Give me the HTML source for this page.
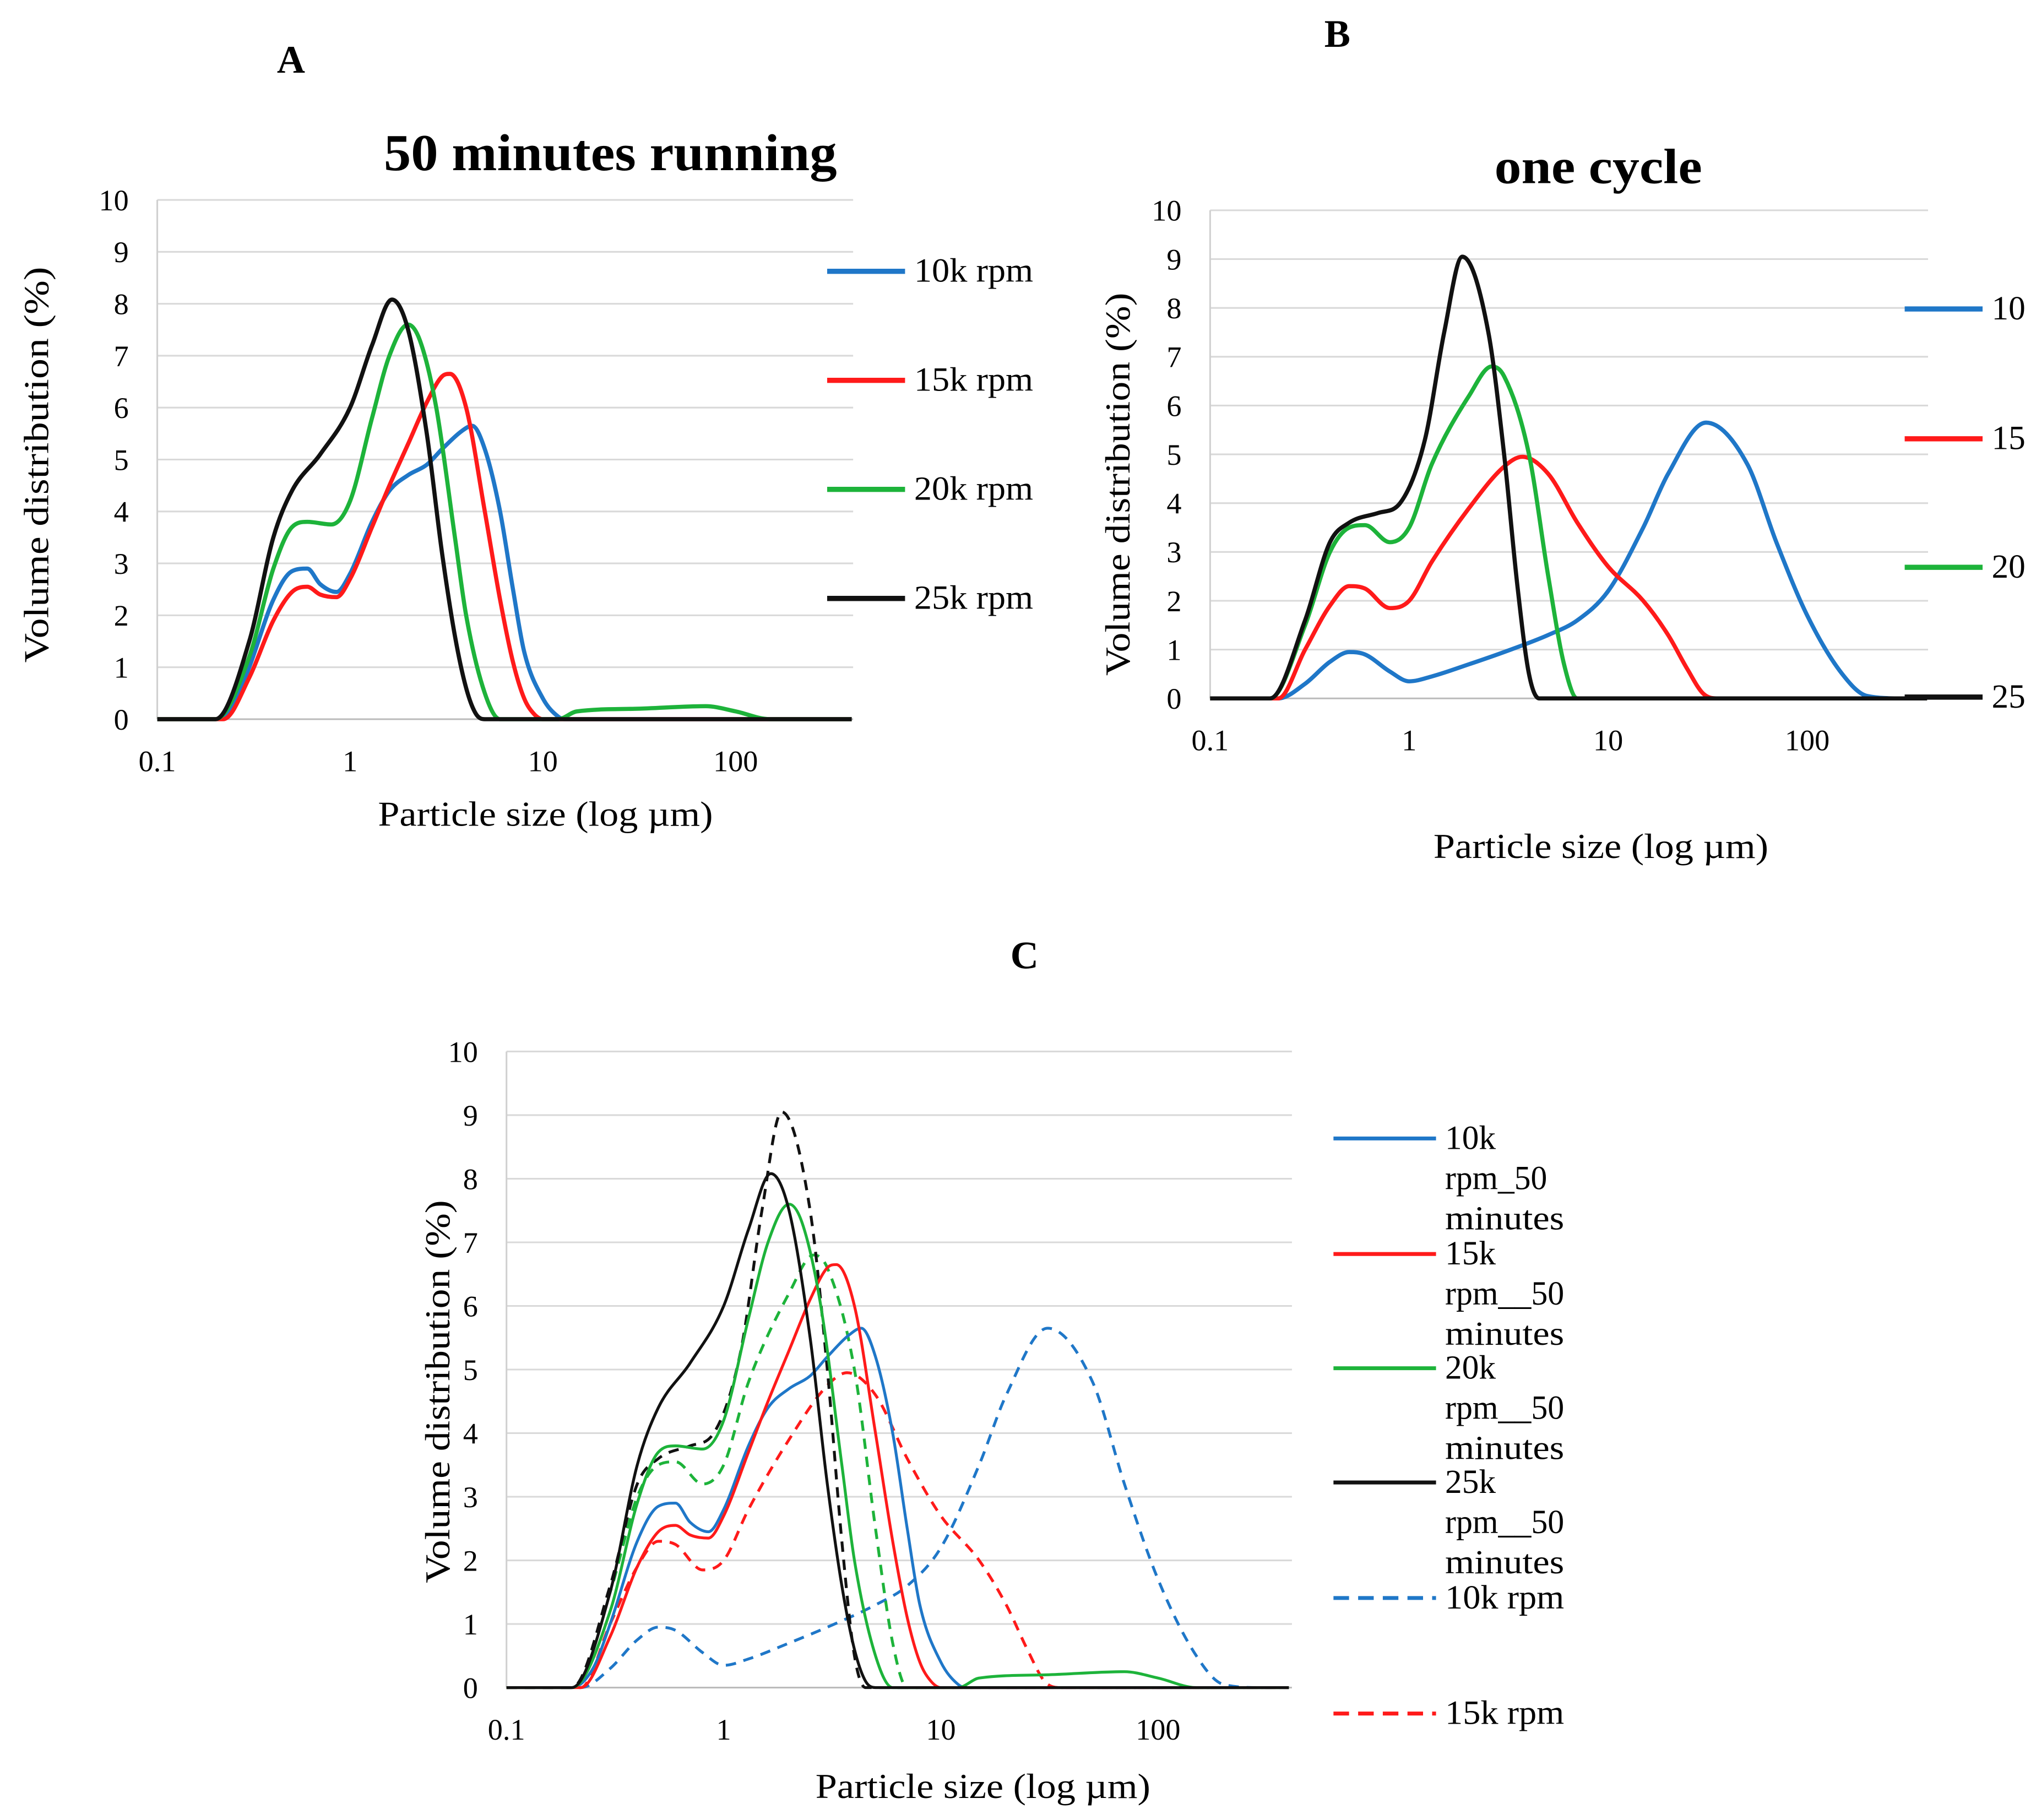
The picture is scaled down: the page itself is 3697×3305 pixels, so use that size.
<!DOCTYPE html>
<html><head><meta charset="utf-8">
<style>
html,body{margin:0;padding:0;background:#fff;}
svg{display:block;}
text{font-family:"Liberation Serif",serif;fill:#000;}
</style></head>
<body>
<svg id="chart" width="3697" height="3305" viewBox="0 0 1568 1402" xmlns="http://www.w3.org/2000/svg">
<g id="root"></g>
</svg>
<script>
// ---- Data (particle size µm, volume %) ----
const tickLabelsX = ["0.1","1","10","100"];
const tickValuesX = [0.1,1,10,100];
const tickValuesY = [0,1,2,3,4,5,6,7,8,9,10];

// A: 50 minutes running
const a10x=[0.1,0.2,0.25,0.3,0.4,0.5,0.6,0.7,0.85,1,1.3,1.6,2,2.5,3,3.8,4.3,5,6,7,8,10,12,13,400];
const a10y=[0,0,0.3,1,2.3,2.85,2.9,2.6,2.45,2.8,3.8,4.4,4.7,4.9,5.2,5.55,5.65,5.2,4,2.5,1.3,0.4,0.05,0,0];
const a15x=[0.1,0.22,0.3,0.4,0.5,0.6,0.7,0.85,1,1.3,1.6,2,2.5,3,3.3,4,5,6,7,8,9,10,400];
const a15y=[0,0,0.8,1.9,2.45,2.55,2.4,2.35,2.7,3.7,4.5,5.3,6.1,6.6,6.65,6,4,2.3,1.1,0.4,0.1,0,0];
const a20x=[0.1,0.2,0.3,0.4,0.5,0.6,0.8,1,1.3,1.6,2,2.3,2.8,3.5,4,5,6,12,15,30,70,100,150,400];
const a20y=[0,0,1.2,2.9,3.7,3.8,3.75,4.2,5.8,7,7.6,7.3,6,3.5,2,0.5,0,0,0.15,0.2,0.25,0.15,0,0];
const a25x=[0.1,0.2,0.3,0.4,0.5,0.7,1,1.3,1.65,2,2.5,3,3.5,4,4.5,5,400];
const a25y=[0,0,1.5,3.5,4.4,5.1,6,7.2,8.08,7.5,5.5,3.2,1.6,0.6,0.1,0,0];

// B: one cycle
const b10x=[0.1,0.22,0.3,0.4,0.5,0.6,0.8,1,1.3,2,3,5,7,10,15,20,31,50,70,100,150,200,300,400];
const b10y=[0,0,0.3,0.75,0.95,0.9,0.55,0.35,0.45,0.7,0.95,1.3,1.6,2.2,3.5,4.6,5.65,4.8,3.2,1.7,0.5,0.05,0,0];
const b15x=[0.1,0.22,0.3,0.4,0.5,0.6,0.8,1,1.3,2,3,3.7,5,7,10,15,20,25,30,35,400];
const b15y=[0,0,1,1.9,2.3,2.25,1.85,2,2.8,3.9,4.75,4.95,4.6,3.6,2.7,2,1.3,0.6,0.1,0,0];
const b20x=[0.1,0.2,0.3,0.4,0.5,0.6,0.8,1,1.3,2,2.6,3,4,5,6,7,400];
const b20y=[0,0,1.5,3,3.5,3.55,3.2,3.5,4.8,6.2,6.8,6.6,5,2.5,0.7,0,0];
const b25x=[0.1,0.2,0.3,0.4,0.5,0.7,0.9,1.2,1.5,1.85,2.5,3,3.5,4,4.5,400];
const b25y=[0,0,1.6,3.2,3.6,3.8,4,5.3,7.5,9.05,7.5,5,2.3,0.5,0,0];

const BLUE="#1f77c8",RED="#ff1a1a",GREEN="#1db33a",BLACK="#111";
const NS="http://www.w3.org/2000/svg";
const root=document.getElementById('root');
function el(tag,attrs,parent){const e=document.createElementNS(NS,tag);for(const k in attrs)e.setAttribute(k,attrs[k]);(parent||root).appendChild(e);return e;}
function txt(s,attrs,parent){const e=el('text',attrs,parent);e.textContent=s;return e;}

function monoPath(pts){
  const n=pts.length;if(n<2)return'';
  const dx=[],m=[],t=[];
  for(let i=0;i<n-1;i++){dx[i]=pts[i+1][0]-pts[i][0];m[i]=(pts[i+1][1]-pts[i][1])/dx[i];}
  t[0]=m[0];t[n-1]=m[n-2];
  for(let i=1;i<n-1;i++){t[i]=(m[i-1]*m[i]<=0)?0:(m[i-1]+m[i])/2;}
  for(let i=0;i<n-1;i++){if(m[i]===0){t[i]=0;t[i+1]=0;continue;}
    const a=t[i]/m[i],b=t[i+1]/m[i],h=a*a+b*b;if(h>9){const s=3/Math.sqrt(h);t[i]=s*a*m[i];t[i+1]=s*b*m[i];}}
  let d='M'+pts[0][0].toFixed(2)+','+pts[0][1].toFixed(2);
  for(let i=0;i<n-1;i++){const h=dx[i]/3;
    d+='C'+(pts[i][0]+h).toFixed(2)+','+(pts[i][1]+t[i]*h).toFixed(2)+' '+(pts[i+1][0]-h).toFixed(2)+','+(pts[i+1][1]-t[i+1]*h).toFixed(2)+' '+pts[i+1][0].toFixed(2)+','+pts[i+1][1].toFixed(2);}
  return d;
}

function makeChart(cfg){
  const g=el('g',{});
  
  
  const xs=v=>cfg.x0+(Math.log10(v)+1)*cfg.dec;
  const ys=v=>cfg.y0-v*cfg.unit;
  const grid=el('g',{},g);
  
  
  tickValuesY.forEach(v=>{
    el('line',{x1:cfg.x0,x2:cfg.xEnd,y1:ys(v),y2:ys(v),stroke:v===0?'#bbb':'#d9d9d9','stroke-width':1.3},grid);
    const t=txt(String(v),{x:cfg.x0-22,y:ys(v)+8,'font-size':23,'text-anchor':'end'},g);
    
    
  });
  el('line',{x1:cfg.x0,x2:cfg.x0,y1:ys(10),y2:ys(0),stroke:'#d0d0d0','stroke-width':1.3},grid);
  tickValuesX.forEach((v,i)=>{
    const t=txt(tickLabelsX[i],{x:xs(v),y:cfg.y0+40,'font-size':23,'text-anchor':'middle'},g);
    
    
  });
  const xt=txt('Particle size (log µm)',{x:cfg.xtx,y:cfg.xty,'font-size':27,'text-anchor':'middle',textLength:258,lengthAdjust:'spacingAndGlyphs'},g);
  
  
  const yt=txt('Volume distribution  (%)',{x:0,y:0,'font-size':27,'text-anchor':'middle',textLength:cfg.ytl,lengthAdjust:'spacingAndGlyphs',transform:'translate('+cfg.ytx+','+cfg.yty+') rotate(-90)'},g);
  
  
  cfg.series.forEach(s=>{
    const pts=s.x.map((v,i)=>[xs(Math.min(v,Math.pow(10,(cfg.xEnd-cfg.x0)/cfg.dec-1))),ys(s.y[i])]);
    const p=el('path',{d:monoPath(pts),fill:'none',stroke:s.c,'stroke-width':cfg.sw,'stroke-dasharray':s.dash?'8,6':'none','stroke-linejoin':'round'},g);
    
    
  });
  cfg.legend.forEach(L=>{
    const lg=el('g',{},g);
    
    
    el('line',{x1:L.x1,x2:L.x2,y1:L.y,y2:L.y,stroke:L.c,'stroke-width':cfg.lw,'stroke-dasharray':L.dash?'12,7':'none'},lg);
    L.lines.forEach((ln,k)=>{
      const a={x:L.x2+7,y:L.y+8+k*31,'font-size':26};
      if(ln.length>3){a.textLength=ln.length*13.1;a.lengthAdjust='spacingAndGlyphs';}
      txt(ln,a,lg);
    });
  });
  return g;
}

makeChart({name:'chart-a',x0:121,dec:148.5,xEnd:657,y0:554,unit:40,sw:3.2,lw:4,xtx:420,xty:636,ytx:37,yty:358,ytl:305,
 series:[{x:a10x,y:a10y,c:BLUE,name:'line-10k'},{x:a15x,y:a15y,c:RED,name:'line-15k'},{x:a20x,y:a20y,c:GREEN,name:'line-20k'},{x:a25x,y:a25y,c:BLACK,name:'line-25k'}],
 legend:[{x1:637,x2:697,y:209,c:BLUE,lines:['10k rpm']},{x1:637,x2:697,y:293,c:RED,lines:['15k rpm']},{x1:637,x2:697,y:377,c:GREEN,lines:['20k rpm']},{x1:637,x2:697,y:461,c:BLACK,lines:['25k rpm']}]});

makeChart({name:'chart-b',x0:932,dec:153.3,xEnd:1485,y0:538,unit:37.6,sw:3.2,lw:4,xtx:1233,xty:661,ytx:870,yty:373,ytl:295,
 series:[{x:b10x,y:b10y,c:BLUE,name:'line-10k'},{x:b15x,y:b15y,c:RED,name:'line-15k'},{x:b20x,y:b20y,c:GREEN,name:'line-20k'},{x:b25x,y:b25y,c:BLACK,name:'line-25k'}],
 legend:[{x1:1467,x2:1527,y:238,c:BLUE,lines:['10']},{x1:1467,x2:1527,y:338,c:RED,lines:['15']},{x1:1467,x2:1527,y:437,c:GREEN,lines:['20']},{x1:1467,x2:1527,y:537,c:BLACK,lines:['25']}]});

makeChart({name:'chart-c',x0:390,dec:167.3,xEnd:995,y0:1300,unit:49,sw:2.2,lw:3,xtx:757,xty:1385,ytx:346,yty:1072,ytl:295,
 series:[{x:b10x,y:b10y,c:BLUE,dash:1,name:'line-10k-cycle'},{x:b15x,y:b15y,c:RED,dash:1,name:'line-15k-cycle'},{x:b20x,y:b20y,c:GREEN,dash:1,name:'line-20k-cycle'},{x:b25x,y:b25y,c:BLACK,dash:1,name:'line-25k-cycle'},
  {x:a10x,y:a10y,c:BLUE,name:'line-10k-50min'},{x:a15x,y:a15y,c:RED,name:'line-15k-50min'},{x:a20x,y:a20y,c:GREEN,name:'line-20k-50min'},{x:a25x,y:a25y,c:BLACK,name:'line-25k-50min'}],
 legend:[{x1:1027,x2:1106,y:877,c:BLUE,lines:['10k','rpm_50','minutes']},{x1:1027,x2:1106,y:966,c:RED,lines:['15k','rpm__50','minutes']},
  {x1:1027,x2:1106,y:1054,c:GREEN,lines:['20k','rpm__50','minutes']},{x1:1027,x2:1106,y:1142,c:BLACK,lines:['25k','rpm__50','minutes']},
  {x1:1027,x2:1106,y:1231,c:BLUE,dash:1,lines:['10k rpm']},{x1:1027,x2:1106,y:1320,c:RED,dash:1,lines:['15k rpm']}]});

const labels=[['A',224,56,'panel-label-a'],['B',1030,36,'panel-label-b'],['C',789,746,'panel-label-c']];
labels.forEach(l=>{const t=txt(l[0],{x:l[1],y:l[2],'font-size':30,'font-weight':'bold','text-anchor':'middle'});
 
 });
const t1=txt('50 minutes running',{x:470,y:131,'font-size':40,'font-weight':'bold','text-anchor':'middle',textLength:349,lengthAdjust:'spacingAndGlyphs'});


const t2=txt('one cycle',{x:1231,y:141,'font-size':38,'font-weight':'bold','text-anchor':'middle',textLength:160,lengthAdjust:'spacingAndGlyphs'});


</script>
</body></html>
